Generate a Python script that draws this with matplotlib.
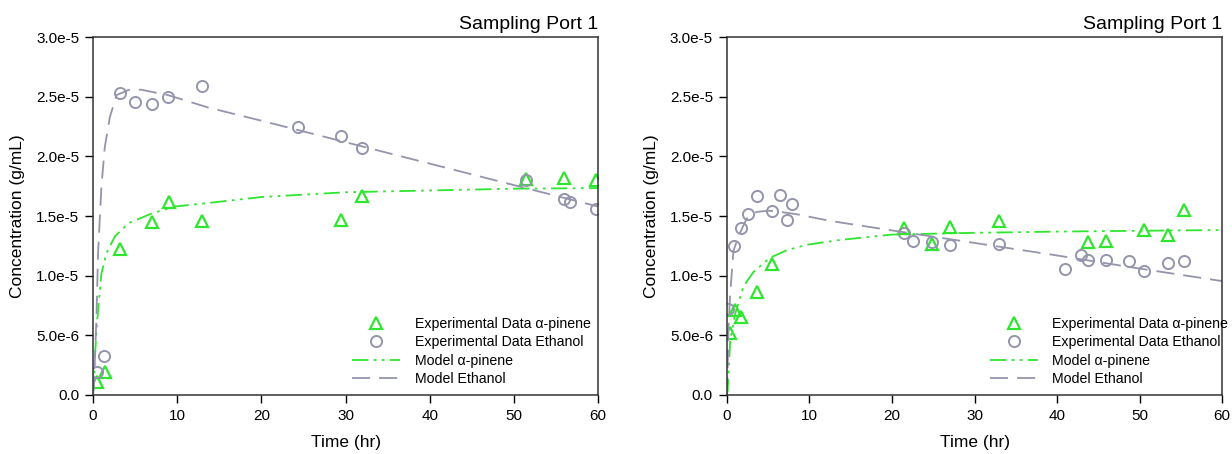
import matplotlib
matplotlib.use('Agg')
import matplotlib.pyplot as plt

plt.rcParams['font.family'] = ['Liberation Sans', 'DejaVu Sans']

green = '#2ee62e'
grey = '#9494ac'

# ---- left panel: experimental data (values in 1e-6 g/mL)
t_ap_1 = [0.52, 1.38, 3.15, 6.96, 8.97, 13.0, 29.5, 31.9, 51.4, 55.9, 59.8]
c_ap_1 = [1.12, 1.9, 12.2, 14.5, 16.2, 14.6, 14.7, 16.7, 18.1, 18.2, 18.05]
t_et_1 = [0.52, 1.29, 3.15, 4.96, 6.96, 8.92, 12.97, 24.4, 29.5, 31.9, 51.4, 55.9, 56.7, 59.75]
c_et_1 = [1.9, 3.3, 25.3, 24.6, 24.4, 25.0, 25.9, 22.5, 21.7, 20.7, 18.0, 16.4, 16.2, 15.6]

# left panel: model curves
tm_ap_1 = [0, 0.1, 0.25, 0.5, 1.0, 1.6, 2.6, 4.2, 6.9, 9.7, 13.7, 20, 30, 40, 50, 60]
cm_ap_1 = [0, 1.25, 3.5, 6.3, 10.2, 11.9, 13.3, 14.4, 15.2, 15.8, 16.1, 16.6, 17.0, 17.15, 17.3, 17.35]
tm_et_1 = [0, 0.1, 0.4, 0.6, 1.0, 1.4, 2.0, 2.8, 4.2, 5.7, 8.9, 13.7, 20, 30, 40, 50, 60]
cm_et_1 = [0, 0.7, 6.3, 11.9, 17.5, 20.8, 23.3, 25.15, 25.57, 25.6, 25.15, 24.1, 23.0, 21.2, 19.4, 17.6, 15.8]

# ---- right panel: experimental data
t_ap_2 = [0.33, 0.94, 1.74, 3.67, 5.5, 21.5, 24.9, 27.0, 33.0, 43.8, 45.9, 50.5, 53.4, 55.4]
c_ap_2 = [5.18, 7.14, 6.55, 8.6, 10.97, 14.0, 12.7, 14.05, 14.6, 12.8, 12.95, 13.8, 13.4, 15.5]
t_et_2 = [0.19, 0.89, 1.69, 2.59, 3.67, 5.5, 6.49, 7.33, 7.9, 21.5, 22.5, 24.9, 27.0, 33.0,
          41.0, 42.9, 43.8, 45.9, 48.7, 50.5, 53.4, 55.4]
c_et_2 = [7.17, 12.5, 13.97, 15.2, 16.7, 15.45, 16.8, 14.7, 16.0, 13.6, 12.9, 12.8, 12.6, 12.7,
          10.6, 11.7, 11.3, 11.35, 11.2, 10.4, 11.05, 11.2]

# right panel: model curves
tm_ap_2 = [0, 0.1, 0.4, 1.0, 2.0, 3.2, 5.2, 7.3, 9.7, 13.7, 20, 30, 40, 50, 60]
cm_ap_2 = [0, 0.4, 4.6, 6.8, 9.1, 10.3, 11.5, 12.15, 12.6, 13.0, 13.45, 13.6, 13.7, 13.77, 13.83]
tm_et_2 = [0, 0.1, 0.2, 0.4, 0.8, 1.4, 2.4, 3.6, 5.0, 6.0, 8.5, 12.5, 20, 30, 40, 50, 60]
cm_et_2 = [0, 2.5, 5.7, 8.5, 12.1, 13.3, 14.8, 15.35, 15.45, 15.4, 15.15, 14.6, 13.8, 12.75, 11.7, 10.6, 9.55]

labels = ['Experimental Data \u03b1-pinene', 'Experimental Data Ethanol',
          'Model \u03b1-pinene', 'Model Ethanol']
xticks = [0, 10, 20, 30, 40, 50, 60]
yticks = [0, 5e-6, 1e-5, 1.5e-5, 2e-5, 2.5e-5, 3e-5]
ytick_labels = ['0.0', '5.0e-6', '1.0e-5', '1.5e-5', '2.0e-5', '2.5e-5', '3.0e-5']


def e6(v):
    return [x * 1e-6 for x in v]


def make_panel(ax, t_ap, c_ap, t_et, c_et, tm_ap, cm_ap, tm_et, cm_et, leg_x):
    h1, = ax.plot(t_ap, e6(c_ap), linestyle='none', marker='^', markersize=8,
                  markerfacecolor='none', markeredgecolor=green, mew=1.6)
    h2, = ax.plot(t_et, e6(c_et), linestyle='none', marker='o', markersize=8,
                  markerfacecolor='none', markeredgecolor=grey, mew=1.4)
    h3, = ax.plot(tm_ap, e6(cm_ap), color=green, linewidth=1.3,
                  dashes=(9, 3, 1.5, 3, 1.5, 3))
    h4, = ax.plot(tm_et, e6(cm_et), color=grey, linewidth=1.3, dashes=(10, 5))

    ax.set_xlim(0, 60)
    ax.set_ylim(0, 3e-5)
    ax.set_xticks(xticks)
    ax.set_yticks(yticks)
    ax.set_yticklabels(ytick_labels)
    ax.tick_params(direction='out', length=6, width=1, labelsize=11, pad=4)
    for s in ax.spines.values():
        s.set_linewidth(1.1)
        s.set_color('#333333')

    ax.set_xlabel('Time (hr)', fontsize=12.5, labelpad=9)
    ax.set_ylabel('Concentration (g/mL)', fontsize=12.5, labelpad=8)
    ax.set_title('Sampling Port 1', loc='right', fontsize=14, pad=6)

    ax.legend([h1, h2, h3, h4], labels, loc='lower right', frameon=False,
              fontsize=10.2, handlelength=3.4, handletextpad=1.0,
              labelspacing=0.3, bbox_to_anchor=(leg_x, -0.01))


fig = plt.figure(figsize=(12.32, 4.54), dpi=100)
ax1 = fig.add_axes([0.0755, 0.130, 0.41, 0.788])
ax2 = fig.add_axes([0.590, 0.130, 0.402, 0.788])

make_panel(ax1, t_ap_1, c_ap_1, t_et_1, c_et_1, tm_ap_1, cm_ap_1, tm_et_1, cm_et_1, 1.01)
make_panel(ax2, t_ap_2, c_ap_2, t_et_2, c_et_2, tm_ap_2, cm_ap_2, tm_et_2, cm_et_2, 1.038)

fig.savefig('out.png', dpi=100)
